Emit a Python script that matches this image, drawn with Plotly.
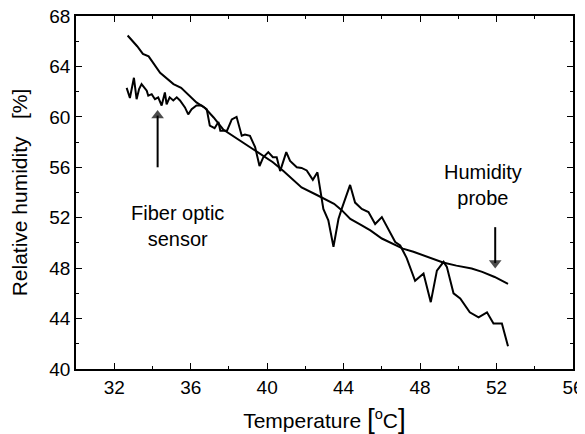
import plotly.graph_objects as go

# Humidity probe (smooth reference)
probe_temp = [32.7, 33.2, 33.5, 33.8, 34.4, 35.1, 35.5, 36.0, 36.3, 36.75, 37.2, 37.7,
              38.2, 38.75, 39.3, 39.8, 40.3, 40.85, 41.4, 41.8, 42.6, 43.5, 43.9, 44.35,
              44.95, 45.4, 46.0, 46.6, 47.1, 47.65, 48.36, 49.2, 49.9, 50.7, 51.25, 51.9, 52.6]
probe_rh = [66.45, 65.6, 65.0, 64.8, 63.5, 62.6, 62.3, 61.6, 61.15, 60.7, 59.95, 59.0,
            58.5, 58.0, 57.45, 56.9, 56.4, 55.7, 54.95, 54.4, 53.8, 53.1, 52.6, 51.9,
            51.4, 51.0, 50.35, 49.9, 49.55, 49.3, 48.9, 48.45, 48.2, 47.97, 47.7, 47.3, 46.75]

# Fiber optic sensor
fiber_temp = [32.65, 32.82, 33.03, 33.17, 33.3, 33.43, 33.7, 33.78, 33.96, 34.13, 34.3, 34.48,
              34.65, 34.74, 34.9, 35.09, 35.27, 35.44, 35.7, 35.87, 36.05, 36.3, 36.57, 36.84,
              37.0, 37.25, 37.45, 37.55, 37.9, 38.15, 38.4, 38.67, 38.84, 39.1, 39.37, 39.6,
              39.8, 40.06, 40.3, 40.5, 40.68, 41.0, 41.2, 41.55, 41.8, 42.07, 42.39, 42.63,
              42.94, 43.2, 43.47, 43.73, 43.9, 44.34, 44.6, 44.95, 45.3, 45.65, 46.0, 46.35,
              46.7, 46.96, 47.3, 47.74, 48.18, 48.56, 48.88, 49.23, 49.4, 49.75, 50.1, 50.6,
              51.06, 51.5, 51.84, 52.28, 52.6]
fiber_rh = [62.3, 61.5, 63.1, 61.4, 62.2, 62.6, 62.07, 61.68, 61.8, 61.4, 61.55, 60.9,
            61.94, 61.0, 61.55, 61.3, 61.55, 61.3, 60.75, 60.2, 60.6, 60.9, 60.9, 60.6,
            59.3, 59.1, 59.6, 58.9, 58.9, 59.8, 60.0, 58.5, 58.6, 58.5, 57.6, 56.1,
            56.8, 57.2, 56.8, 56.8, 55.7, 57.2, 56.5, 56.0, 55.95, 55.75, 55.0, 55.6,
            52.7, 51.8, 49.7, 51.9, 52.7, 54.6, 53.2, 52.7, 52.45, 51.5, 52.05, 51.0,
            50.07, 49.8, 48.8, 47.0, 47.57, 45.3, 47.8, 48.5, 48.1, 46.0, 45.6, 44.5,
            44.1, 44.5, 43.6, 43.6, 41.8]

x_ticks = [32, 36, 40, 44, 48, 52, 56]
y_ticks = [40, 44, 48, 52, 56, 60, 64, 68]

# arrow shafts (tail, head)
fiber_arrow_x = [34.27, 34.27]
fiber_arrow_y = [56.0, 60.1]
probe_arrow_x = [51.93, 51.93]
probe_arrow_y = [51.25, 48.4]

FONT = "Liberation Sans, Arial, sans-serif"

fig = go.Figure()
fig.add_trace(go.Scatter(x=probe_temp, y=probe_rh, mode="lines",
                         line=dict(color="black", width=2), name="Humidity probe"))
fig.add_trace(go.Scatter(x=fiber_temp, y=fiber_rh, mode="lines",
                         line=dict(color="black", width=2), name="Fiber optic sensor"))

# arrows as shaft line + triangle head
fig.add_trace(go.Scatter(x=fiber_arrow_x, y=fiber_arrow_y, mode="lines+markers",
                         line=dict(color="black", width=2),
                         marker=dict(symbol=["circle", "triangle-up"], size=[0, 11], color="black",
                                     line=dict(width=0)),
                         hoverinfo="skip"))
fig.add_trace(go.Scatter(x=probe_arrow_x, y=probe_arrow_y, mode="lines+markers",
                         line=dict(color="black", width=2),
                         marker=dict(symbol=["circle", "triangle-down"], size=[0, 11], color="black",
                                     line=dict(width=0)),
                         hoverinfo="skip"))

axis_common = dict(showline=True, linecolor="black", linewidth=1.5, mirror="allticks",
                   ticks="inside", ticklen=6, tickwidth=1.2, tickcolor="black",
                   showgrid=False, zeroline=False, automargin=False,
                   ticklabeloverflow="allow",
                   tickfont=dict(family=FONT, size=19, color="black"),
                   minor=dict(ticks="inside", ticklen=3, tickwidth=1.2, tickcolor="black", dtick=2, showgrid=False))

fig.update_xaxes(range=[30, 56], tickvals=x_ticks, ticktext=[str(v) for v in x_ticks],
                 title=dict(text="Temperature <span style='font-size:28px'>[</span><sup>o</sup>C<span style='font-size:28px'>]</span>",
                            font=dict(family=FONT, size=21, color="black"), standoff=17),
                 **axis_common)
fig.update_yaxes(range=[40, 68], tickvals=y_ticks, ticktext=[str(v) for v in y_ticks],
                 title=dict(text="Relative humidity\u00a0\u00a0\u00a0[%]",
                            font=dict(family=FONT, size=21, color="black"), standoff=17),
                 **axis_common)

fig.add_annotation(x=35.33, y=51.35, xref="x", yref="y", showarrow=False,
                   text="Fiber optic<br>sensor", font=dict(family=FONT, size=20, color="black"))
fig.add_annotation(x=51.31, y=54.6, xref="x", yref="y", showarrow=False,
                   text="Humidity<br>probe", font=dict(family=FONT, size=20, color="black"))

# page body has an 8px default margin, so the figure is sized to fit the 585x434 window
fig.update_layout(width=577, height=426, margin=dict(l=68, r=12, t=8, b=65),
                  plot_bgcolor="white", paper_bgcolor="white", showlegend=False)

fig.write_html("out.html")
